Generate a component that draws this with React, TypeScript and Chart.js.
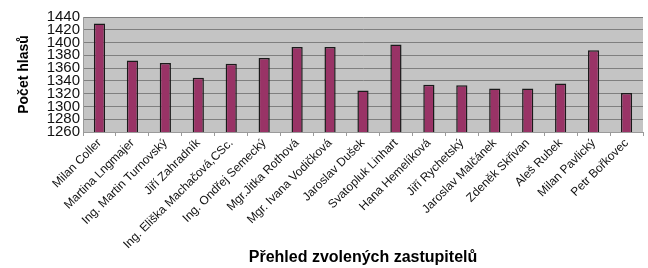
import React, { useEffect, useRef } from "react";
import { Chart, registerables } from "chart.js";

Chart.register(...registerables);

const categories = [
  "Milan Coller",
  "Martina Lngmajer",
  "Ing. Martin Turnovský",
  "Jiří Zahradník",
  "Ing. Eliška Machačová,CSc.",
  "Ing. Ondřej Semecký",
  "Mgr.Jitka Rothová",
  "Mgr. Ivana Vodičková",
  "Jaroslav Dušek",
  "Svatopluk Linhart",
  "Hana Hemelíková",
  "Jiří Rychetský",
  "Jaroslav Malčánek",
  "Zdeněk Skřivan",
  "Aleš Rubek",
  "Milan Pavlický",
  "Petr Bořkovec",
];

const votes = [1430, 1372, 1368, 1345, 1367, 1376, 1393, 1393, 1325, 1397, 1334, 1333, 1328, 1328, 1336, 1388, 1321];

const yMin = 1260;
const yMax = 1440;
const yStep = 20;

const yTitle = "Počet hlasů";
const xTitle = "Přehled zvolených zastupitelů";

const plotBg = {
  id: "plotBg",
  beforeDraw(chart: any) {
    const { ctx, chartArea } = chart;
    if (!chartArea) return;
    ctx.save();
    ctx.fillStyle = "#c4c4c4";
    ctx.fillRect(chartArea.left, chartArea.top, chartArea.right - chartArea.left, chartArea.bottom - chartArea.top);
    ctx.restore();
  },
};

export default function App() {
  const ref = useRef<HTMLCanvasElement | null>(null);
  useEffect(() => {
    document.body.style.margin = "0";
    const chart = new Chart(ref.current as HTMLCanvasElement, {
      type: "bar",
      data: {
        labels: categories,
        datasets: [
          {
            data: votes,
            backgroundColor: "#993366",
            borderColor: "#1a1a1a",
            borderWidth: 1.5,
            barPercentage: 0.34,
            categoryPercentage: 1,
          },
        ],
      },
      options: {
        animation: false,
        responsive: false,
        maintainAspectRatio: false,
        layout: { padding: { left: 0, right: 5, top: 17, bottom: 0 } },
        plugins: { legend: { display: false }, tooltip: { enabled: false } },
        scales: {
          x: {
            grid: {
              drawOnChartArea: false,
              drawTicks: true,
              tickLength: 4,
              color: "#9a9a9a",
            },
            border: { color: "#9a9a9a" },
            ticks: {
              minRotation: 45,
              maxRotation: 45,
              autoSkip: false,
              color: "#111",
              padding: 0,
              font: { family: "Liberation Sans, Arial", size: 12 },
            },
            title: {
              display: true,
              text: xTitle,
              color: "#000",
              font: { family: "Liberation Sans, Arial", size: 16, weight: "bold" },
              padding: { top: 0, bottom: 1 },
            },
            afterFit: (scale: any) => {
              scale.height = 136;
            },
          },
          y: {
            min: yMin,
            max: yMax,
            grid: { color: "#7f7f7f", drawTicks: false, lineWidth: 1 },
            border: { color: "#9a9a9a" },
            ticks: {
              stepSize: yStep,
              autoSkip: false,
              color: "#111",
              padding: 3,
              font: { family: "Liberation Sans, Arial", size: 15, lineHeight: 1 },
              callback: (v: any) => String(v),
            },
            title: {
              display: true,
              text: yTitle,
              color: "#000",
              font: { family: "Liberation Sans, Arial", size: 14, weight: "bold" },
              padding: { top: 16, bottom: 0 },
            },
            afterFit: (scale: any) => {
              scale.width = 83;
            },
          },
        },
      },
      plugins: [plotBg],
    });
    return () => chart.destroy();
  }, []);
  return (
    <div style={{ position: "absolute", left: 0, top: 0, width: 648, height: 268, background: "#fff" }}>
      <canvas ref={ref} width={648} height={268} style={{ width: 648, height: 268 }} />
    </div>
  );
}
